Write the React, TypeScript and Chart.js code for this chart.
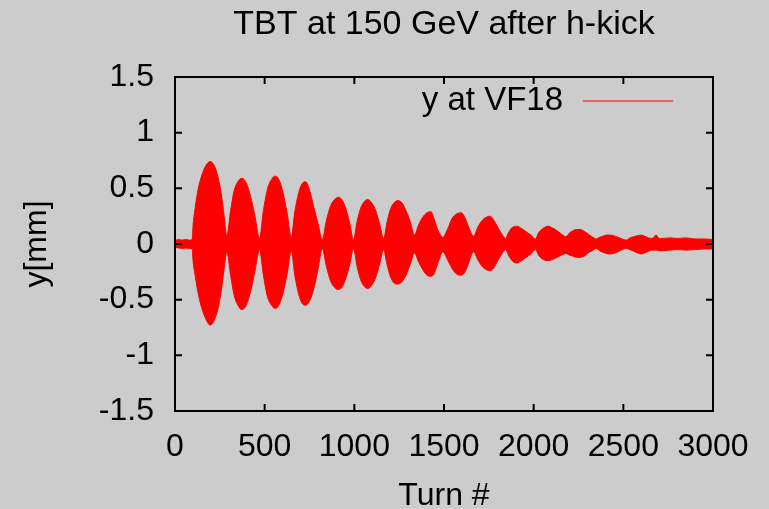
import { useEffect, useRef } from "react";
import { Chart, registerables } from "chart.js";

Chart.register(...registerables);

// Turn-by-turn vertical position at VF18: upper and lower extent of the
// fast oscillation (mm), one row per beat lobe.
const turns = [
  0, 20, 40, 60, 80, 96,
  100, 112, 130, 150, 174, 196, 220, 240, 258, 274, 289,
  310, 330, 351, 372, 397, 421, 446, 471,
  493, 515, 538, 560, 582, 604, 626, 648,
  668, 688, 708, 728, 751, 774, 798, 821,
  844, 867, 890, 913, 934, 954, 975, 995,
  1015, 1035, 1055, 1075, 1097, 1119, 1141, 1163,
  1183, 1203, 1222, 1242, 1265, 1288, 1312, 1335,
  1358, 1381, 1405, 1428, 1444, 1460, 1477, 1493,
  1519, 1545, 1570, 1596, 1613, 1631, 1648, 1665,
  1688, 1712, 1735, 1758, 1779, 1800, 1822, 1843,
  1859, 1875, 1890, 1906, 1932, 1958, 1984, 2010,
  2027, 2044, 2062, 2079, 2104, 2130, 2155, 2181,
  2200, 2220, 2240, 2259, 2281, 2303, 2326, 2348,
  2367, 2386, 2404, 2423, 2446, 2470, 2493, 2516,
  2537, 2558, 2579, 2600, 2620, 2640, 2660, 2683,
  2700, 2720, 2760, 2800, 2850, 2900, 2950, 3000,
];

const yUpper = [
  0.03, 0.04, 0.035, 0.04, 0.035, 0.04,
  0.15, 0.32, 0.5, 0.62, 0.71, 0.74, 0.7, 0.6, 0.45, 0.25, 0.07,
  0.3, 0.48, 0.56, 0.59, 0.55, 0.43, 0.25, 0.05,
  0.3, 0.49, 0.58, 0.61, 0.57, 0.45, 0.27, 0.06,
  0.29, 0.45, 0.54, 0.56, 0.48, 0.33, 0.18, 0.04,
  0.21, 0.34, 0.4, 0.42, 0.39, 0.31, 0.18, 0.035,
  0.2, 0.32, 0.38, 0.4, 0.37, 0.3, 0.18, 0.05,
  0.2, 0.32, 0.37, 0.39, 0.37, 0.3, 0.2, 0.08,
  0.17, 0.24, 0.28, 0.29, 0.23, 0.15, 0.09, 0.06,
  0.13, 0.23, 0.27, 0.28, 0.25, 0.18, 0.11, 0.07,
  0.15, 0.21, 0.24, 0.25, 0.21, 0.15, 0.09, 0.05,
  0.1, 0.14, 0.155, 0.16, 0.14, 0.11, 0.08, 0.045,
  0.1, 0.13, 0.15, 0.16, 0.145, 0.12, 0.09, 0.065,
  0.1, 0.12, 0.13, 0.13, 0.115, 0.09, 0.065, 0.045,
  0.06, 0.07, 0.08, 0.08, 0.075, 0.06, 0.045, 0.035,
  0.055, 0.065, 0.075, 0.08, 0.07, 0.055, 0.05, 0.08,
  0.05, 0.05, 0.055, 0.05, 0.055, 0.045, 0.045, 0.04,
];

const yLower = [
  -0.03, -0.035, -0.04, -0.035, -0.04, -0.04,
  -0.14, -0.28, -0.45, -0.58, -0.68, -0.73, -0.68, -0.58, -0.42, -0.22, -0.07,
  -0.28, -0.46, -0.55, -0.59, -0.55, -0.43, -0.24, -0.05,
  -0.28, -0.47, -0.55, -0.58, -0.54, -0.43, -0.26, -0.06,
  -0.28, -0.44, -0.53, -0.55, -0.51, -0.4, -0.22, -0.04,
  -0.2, -0.33, -0.39, -0.41, -0.38, -0.3, -0.18, -0.04,
  -0.2, -0.32, -0.38, -0.4, -0.37, -0.3, -0.18, -0.05,
  -0.19, -0.3, -0.35, -0.36, -0.34, -0.28, -0.18, -0.08,
  -0.16, -0.23, -0.28, -0.29, -0.27, -0.2, -0.12, -0.07,
  -0.14, -0.22, -0.27, -0.28, -0.26, -0.2, -0.12, -0.07,
  -0.14, -0.2, -0.23, -0.24, -0.21, -0.15, -0.09, -0.05,
  -0.1, -0.14, -0.165, -0.17, -0.15, -0.12, -0.09, -0.05,
  -0.1, -0.13, -0.145, -0.15, -0.14, -0.12, -0.1, -0.085,
  -0.1, -0.11, -0.12, -0.12, -0.11, -0.08, -0.06, -0.04,
  -0.06, -0.075, -0.085, -0.09, -0.085, -0.07, -0.05, -0.04,
  -0.05, -0.065, -0.08, -0.09, -0.08, -0.065, -0.055, -0.055,
  -0.06, -0.06, -0.055, -0.05, -0.055, -0.05, -0.045, -0.045,
];

const xTicks = [0, 500, 1000, 1500, 2000, 2500, 3000];
const xTickLabels = ["0", "500", "1000", "1500", "2000", "2500", "3000"];
const yTicks = [-1.5, -1, -0.5, 0, 0.5, 1, 1.5];
const yTickLabels = ["-1.5", "-1", "-0.5", "0", "0.5", "1", "1.5"];

const titleText = "TBT at 150 GeV after h-kick";
const xTitle = "Turn #";
const yTitle = "y[mm]";
const seriesName = "y at VF18";

const FONT = "'Liberation Sans', Arial, Helvetica, sans-serif";
const RED = "#ff0000";
const BG = "#cccccc";

const labelFor = (ticks: number[], labels: string[], v: number) => {
  const i = ticks.findIndex((t) => Math.abs(t - v) < 1e-9);
  return i >= 0 ? labels[i] : "";
};

// Frame with inward ticks on all four sides, plus the key in the top-right corner
const framePlugin = {
  id: "gnuFrame",
  afterDatasetsDraw(chart: any) {
    const { ctx, chartArea, scales } = chart;
    const { left, right, top, bottom } = chartArea;
    const tick = 7;
    ctx.save();
    ctx.strokeStyle = "#000";
    ctx.lineWidth = 2;
    ctx.strokeRect(left, top, right - left, bottom - top);
    ctx.beginPath();
    for (const v of xTicks) {
      const px = scales.x.getPixelForValue(v);
      if (px <= left + 1 || px >= right - 1) continue;
      ctx.moveTo(px, bottom);
      ctx.lineTo(px, bottom - tick);
      ctx.moveTo(px, top);
      ctx.lineTo(px, top + tick);
    }
    for (const v of yTicks) {
      const py = scales.y.getPixelForValue(v);
      if (py <= top + 1 || py >= bottom - 1) continue;
      ctx.moveTo(left, py);
      ctx.lineTo(left + tick, py);
      ctx.moveTo(right, py);
      ctx.lineTo(right - tick, py);
    }
    ctx.stroke();

    // key
    const keyY = top + 24;
    ctx.fillStyle = "#000";
    ctx.font = `33px ${FONT}`;
    ctx.textAlign = "right";
    ctx.textBaseline = "middle";
    ctx.fillText(seriesName, right - 150, keyY);
    ctx.strokeStyle = RED;
    ctx.lineWidth = 1;
    ctx.beginPath();
    ctx.moveTo(right - 130, keyY);
    ctx.lineTo(right - 40, keyY);
    ctx.stroke();
    ctx.restore();
  },
};

export default function App() {
  const canvasRef = useRef<HTMLCanvasElement | null>(null);

  useEffect(() => {
    const canvas = canvasRef.current;
    if (!canvas) return;

    const upper = turns.map((t, i) => ({ x: t, y: yUpper[i] }));
    const lower = turns.map((t, i) => ({ x: t, y: yLower[i] }));

    const lineStyle = {
      borderColor: RED,
      backgroundColor: RED,
      borderWidth: 1,
      pointRadius: 0,
      cubicInterpolationMode: "monotone",
    };

    const chart = new Chart(canvas, {
      type: "line",
      data: {
        datasets: [
          { label: seriesName, data: upper, fill: "+1", ...lineStyle },
          { label: seriesName + " (min)", data: lower, fill: false, ...lineStyle },
        ],
      },
      options: {
        animation: false,
        responsive: false,
        devicePixelRatio: 1,
        layout: { padding: { left: 0, right: 56, top: 0, bottom: 0 } },
        plugins: {
          legend: { display: false },
          tooltip: { enabled: false },
          title: {
            display: true,
            text: titleText,
            color: "#000",
            fullSize: false,
            font: { family: FONT, size: 34, weight: "normal", lineHeight: 1 },
            padding: { top: 8, bottom: 35 },
          },
        },
        scales: {
          x: {
            type: "linear",
            min: 0,
            max: 3000,
            afterBuildTicks: (scale: any) => {
              scale.ticks = xTicks.map((v) => ({ value: v }));
            },
            afterFit: (scale: any) => {
              scale.height = 98;
              scale.paddingLeft = 0;
              scale.paddingRight = 0;
            },
            grid: { display: false, drawTicks: false },
            border: { display: false },
            ticks: {
              color: "#000",
              padding: 20,
              maxRotation: 0,
              autoSkip: false,
              font: { family: FONT, size: 32, lineHeight: 1 },
              callback: (v: any) => labelFor(xTicks, xTickLabels, Number(v)),
            },
            title: {
              display: true,
              text: xTitle,
              color: "#000",
              font: { family: FONT, size: 32, lineHeight: 1 },
              padding: { top: 0, bottom: -3 },
            },
          },
          y: {
            type: "linear",
            min: -1.5,
            max: 1.5,
            afterBuildTicks: (scale: any) => {
              scale.ticks = yTicks.map((v) => ({ value: v }));
            },
            afterFit: (scale: any) => {
              scale.width = 175;
              scale.paddingTop = 0;
              scale.paddingBottom = 0;
            },
            grid: { display: false, drawTicks: false },
            border: { display: false },
            ticks: {
              color: "#000",
              padding: 21,
              autoSkip: false,
              font: { family: FONT, size: 32, lineHeight: 1 },
              callback: (v: any) => labelFor(yTicks, yTickLabels, Number(v)),
            },
            title: {
              display: true,
              text: yTitle,
              color: "#000",
              font: { family: FONT, size: 32, lineHeight: 1 },
              padding: { top: 21, bottom: 0 },
            },
          },
        },
      },
      plugins: [framePlugin],
    } as any);

    return () => chart.destroy();
  }, []);

  return (
    <div
      style={{
        position: "absolute",
        left: 0,
        top: 0,
        width: 769,
        height: 509,
        background: BG,
        overflow: "hidden",
      }}
    >
      <canvas ref={canvasRef} width={769} height={509} style={{ display: "block" }} />
    </div>
  );
}
